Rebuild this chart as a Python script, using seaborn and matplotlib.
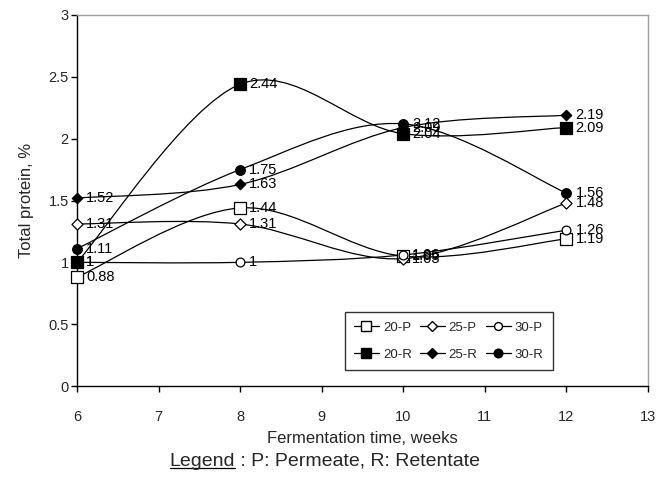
import numpy as np
import matplotlib
matplotlib.use("Agg")
import matplotlib.pyplot as plt
from matplotlib.path import Path
from matplotlib.patches import PathPatch
from matplotlib.lines import Line2D
import seaborn as sns

weeks = [6, 8, 10, 12]
p20 = [0.88, 1.44, 1.05, 1.19]
p25 = [1.31, 1.31, 1.03, 1.48]
p30 = [1.00, 1.00, 1.06, 1.26]
r20 = [1.00, 2.44, 2.04, 2.09]
r25 = [1.52, 1.63, 2.09, 2.19]
r30 = [1.11, 1.75, 2.12, 1.56]
series_names = ["20-P", "25-P", "30-P", "20-R", "25-R", "30-R"]
x_ticks = [6, 7, 8, 9, 10, 11, 12, 13]
y_ticks = [0, 0.5, 1, 1.5, 2, 2.5, 3]

sns.set_theme(style="white")
plt.rcParams["font.family"] = ["Liberation Sans", "DejaVu Sans"]

fig = plt.figure(figsize=(6.56, 4.8), dpi=100)
ax = fig.add_axes([77/656, 1-386/480, (648-77)/656, (386-15)/480])

styles = {
    "20-P": dict(marker="s", s=64, fc="white"),
    "25-P": dict(marker="D", s=32, fc="white"),
    "30-P": dict(marker="o", s=40, fc="white"),
    "20-R": dict(marker="s", s=64, fc="black"),
    "25-R": dict(marker="D", s=28, fc="black"),
    "30-R": dict(marker="o", s=48, fc="black"),
}
data = dict(zip(series_names, [p20, p25, p30, r20, r25, r30]))


def smooth_path(x, y):
    x = np.asarray(x, float)
    y = np.asarray(y, float)
    n = len(x)
    verts = [(x[0], y[0])]
    codes = [Path.MOVETO]
    for i in range(n - 1):
        i0 = max(i - 1, 0)
        i3 = min(i + 2, n - 1)
        c1 = (x[i] + (x[i + 1] - x[i0]) / 6, y[i] + (y[i + 1] - y[i0]) / 6)
        c2 = (x[i + 1] - (x[i3] - x[i]) / 6, y[i + 1] - (y[i3] - y[i]) / 6)
        verts += [c1, c2, (x[i + 1], y[i + 1])]
        codes += [Path.CURVE4] * 3
    return Path(verts, codes)


for name in series_names:
    vals = data[name]
    ax.add_patch(PathPatch(smooth_path(weeks, vals), fill=False,
                           edgecolor="black", lw=0.9, zorder=2))
for name in series_names:
    vals = data[name]
    st = styles[name]
    sns.scatterplot(x=weeks, y=vals, marker=st["marker"], s=st["s"],
                    facecolor=st["fc"], edgecolor="black", linewidth=0.9,
                    ax=ax, zorder=3, legend=False)
    ax.collections[-1].set_clip_on(False)
    for xv, yv in zip(weeks, vals):
        ax.annotate(f"{yv:g}", (xv, yv), xytext=(6.5, 0), textcoords="offset points",
                    va="center", ha="left", fontsize=10.5, color="black", zorder=4)

ax.set_xlim(6, 13)
ax.set_ylim(0, 3)
ax.set_xticks(x_ticks)
ax.set_yticks(y_ticks)
ax.set_yticklabels([f"{v:g}" for v in y_ticks])
ax.tick_params(axis="both", direction="out", length=4, width=1, color="black",
               labelsize=10.5, pad=2, left=True, bottom=True)
ax.tick_params(axis="x", pad=13)
for side in ["left", "bottom"]:
    ax.spines[side].set_color("black")
    ax.spines[side].set_linewidth(1)
for side in ["top", "right"]:
    ax.spines[side].set_color("#a0a0a0")
    ax.spines[side].set_linewidth(1)
ax.set_ylabel("Total protein, %", fontsize=12, labelpad=10)
ax.set_xlabel("Fermentation time, weeks", fontsize=12, labelpad=5)

order = ["20-P", "20-R", "25-P", "25-R", "30-P", "30-R"]
handles = []
for name in order:
    st = styles[name]
    ms = np.sqrt(st["s"])
    handles.append(Line2D([0], [0], color="black", lw=0.9, marker=st["marker"],
                          markersize=ms * 0.9, markerfacecolor=st["fc"],
                          markeredgecolor="black"))
leg = ax.legend(handles, order, ncol=3, loc="center",
                bbox_to_anchor=(0.651, 0.121), borderaxespad=0,
                fontsize=9.5, frameon=True, fancybox=False,
                handlelength=1.9, handletextpad=0.3, columnspacing=0.6,
                borderpad=0.7, labelspacing=1.1)
leg.get_frame().set_edgecolor("black")
leg.get_frame().set_linewidth(1)

# Caption with underlined "Legend"
fig.canvas.draw()
renderer = fig.canvas.get_renderer()
t1 = fig.text(0, 1-461/480, "Legend", ha="left", va="center", fontsize=14)
t2 = fig.text(0, 1-461/480, " : P: Permeate, R: Retentate", ha="left", va="center", fontsize=14)
w1 = t1.get_window_extent(renderer).width
w2 = t2.get_window_extent(renderer).width
W = fig.bbox.width
x0 = 325 - (w1 + w2) / 2
t1.set_x(x0 / W)
t2.set_x((x0 + w1) / W)
bb = t1.get_window_extent(renderer)
yline = (bb.y0 + 2) / fig.bbox.height
fig.add_artist(Line2D([bb.x0 / W, bb.x1 / W], [yline, yline], color="black",
                      lw=0.9, transform=fig.transFigure))

fig.savefig("out.png", dpi=100)
